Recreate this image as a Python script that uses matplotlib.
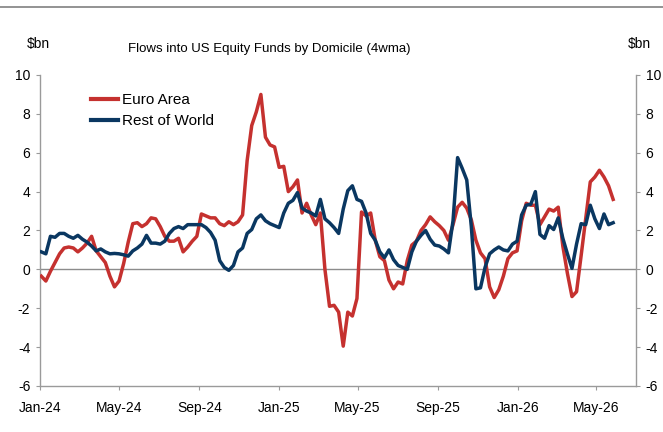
import matplotlib
matplotlib.use("Agg")
import matplotlib.pyplot as plt
import matplotlib.dates as mdates
from matplotlib.lines import Line2D
import pandas as pd

# --- data (weekly, $bn, 4-week moving average) ---
start_date = "2024-01-03"
euro_area = [
    -0.35, -0.6, -0.1, 0.35, 0.8, 1.1, 1.15, 1.1, 0.9, 1.1,
    1.35, 1.7, 0.95, 0.65, 0.35, -0.35, -0.9, -0.6, 0.3, 1.4,
    2.35, 2.4, 2.2, 2.35, 2.65, 2.6, 2.2, 1.7, 1.45, 1.45,
    1.6, 0.9, 1.15, 1.45, 1.7, 2.85, 2.75, 2.65, 2.65, 2.35,
    2.25, 2.45, 2.3, 2.45, 2.8, 5.6, 7.4, 8.1, 9.0, 6.8,
    6.4, 6.3, 5.25, 5.3, 4.0, 4.25, 4.6, 2.9, 3.4, 2.8,
    2.3, 2.9, 0.0, -1.9, -1.85, -2.2, -3.95, -2.2, -2.4, -1.5,
    2.95, 2.75, 2.9, 1.5, 0.65, 0.45, -0.55, -1.0, -0.65, -0.75,
    0.45, 1.25, 1.45, 2.0, 2.3, 2.7, 2.45, 2.25, 2.0, 1.5,
    2.3, 3.2, 3.45, 3.15, 2.55, 1.5, 0.85, 0.55, -0.9, -1.45,
    -1.05, -0.35, 0.55, 0.85, 0.95, 2.5, 3.4, 3.3, 3.3, 2.3,
    2.7, 3.1, 3.0, 3.2, 1.2, -0.2, -1.4, -1.15, 0.7, 2.6,
    4.5, 4.75, 5.1, 4.75, 4.3, 3.6,
]
rest_of_world = [
    0.9, 0.8, 1.7, 1.65, 1.85, 1.85, 1.7, 1.6, 1.75, 1.55,
    1.4, 1.2, 0.95, 1.05, 0.9, 0.8, 0.82, 0.8, 0.75, 0.68,
    0.95, 1.1, 1.3, 1.75, 1.35, 1.35, 1.3, 1.45, 1.85, 2.1,
    2.2, 2.1, 2.3, 2.3, 2.3, 2.3, 2.15, 1.9, 1.5, 0.45,
    0.1, -0.05, 0.2, 0.9, 1.1, 1.85, 2.05, 2.6, 2.8, 2.5,
    2.35, 2.25, 2.15, 2.9, 3.4, 3.55, 3.95, 3.15, 3.0, 2.9,
    2.75, 3.6, 2.6, 2.4, 2.15, 1.85, 3.1, 4.05, 4.3, 3.6,
    3.5, 2.9, 1.85, 1.5, 0.9, 0.6, 1.0, 0.5, 0.2, 0.1,
    0.0, 0.9, 1.45, 1.75, 2.0, 1.55, 1.25, 1.2, 1.05, 0.85,
    2.5, 5.75, 5.2, 4.6, 2.2, -1.0, -0.95, 0.1, 0.8, 1.0,
    1.15, 1.0, 0.95, 1.3, 1.45, 2.8, 3.3, 3.35, 4.0, 1.8,
    1.6, 2.25, 2.05, 2.65, 1.6, 0.8, 0.05, 1.3, 2.35, 2.3,
    3.3, 2.6, 2.1, 2.85, 2.3, 2.4,
]
series_labels = ["Euro Area", "Rest of World"]
y_ticks = [-6, -4, -2, 0, 2, 4, 6, 8, 10]
title = "Flows into US Equity Funds by Domicile (4wma)"

dates = pd.date_range(start_date, periods=len(euro_area), freq="7D")

plt.rcParams["font.family"] = ["Liberation Sans", "DejaVu Sans"]
plt.rcParams["font.size"] = 10
plt.rcParams["axes.unicode_minus"] = False

RED = "#C5312F"
BLUE = "#0A3761"
GREY = "#9A9A9A"

fig = plt.figure(figsize=(6.63, 4.32), dpi=100)
ax = fig.add_axes([0.0603, 0.1065, 0.899, 0.7199])

ax.axhline(0, color="#8C8C8C", lw=1.0, zorder=1)
ax.plot(dates, euro_area, color=RED, lw=2.5, label=series_labels[0], zorder=3)
ax.plot(dates, rest_of_world, color=BLUE, lw=2.5, label=series_labels[1], zorder=4)

ax.set_ylim(-6, 10)
ax.set_yticks(y_ticks)
ax.set_xlim(pd.Timestamp("2024-01-01"), pd.Timestamp("2026-07-01"))
ax.xaxis.set_major_locator(mdates.MonthLocator(bymonth=[1, 5, 9]))
ax.xaxis.set_major_formatter(mdates.DateFormatter("%b-%y"))

ax.spines["top"].set_visible(False)
for side in ["left", "right", "bottom"]:
    ax.spines[side].set_color(GREY)
    ax.spines[side].set_linewidth(1.0)

ax.tick_params(axis="y", which="both", left=True, right=True, labelleft=True,
               labelright=True, direction="out", length=3, width=0.8,
               color=GREY, pad=4, labelsize=10, labelcolor="black")
ax.tick_params(axis="x", direction="out", length=3, width=0.8, color=GREY,
               pad=8, labelsize=10)

# unit labels and title
fig.text(50 / 663, 1 - 44 / 432, "$bn", ha="right", va="center", fontsize=10)
fig.text(628 / 663, 1 - 44 / 432, "$bn", ha="left", va="center", fontsize=10)
fig.text(269 / 663, 1 - 49 / 432, title, ha="center", va="center", fontsize=9.5)

# top rule
fig.add_artist(Line2D([0, 1], [1 - 7 / 432, 1 - 7 / 432], color="#808080", lw=1.2))

leg = ax.legend(loc="upper left", bbox_to_anchor=(0.085, 0.942), frameon=False,
                handlelength=1.8, handletextpad=0.25, labelspacing=0.48,
                borderpad=0, borderaxespad=0, fontsize=11)
for h in leg.get_lines():
    h.set_linewidth(3.0)

fig.savefig("out.png", dpi=100)
